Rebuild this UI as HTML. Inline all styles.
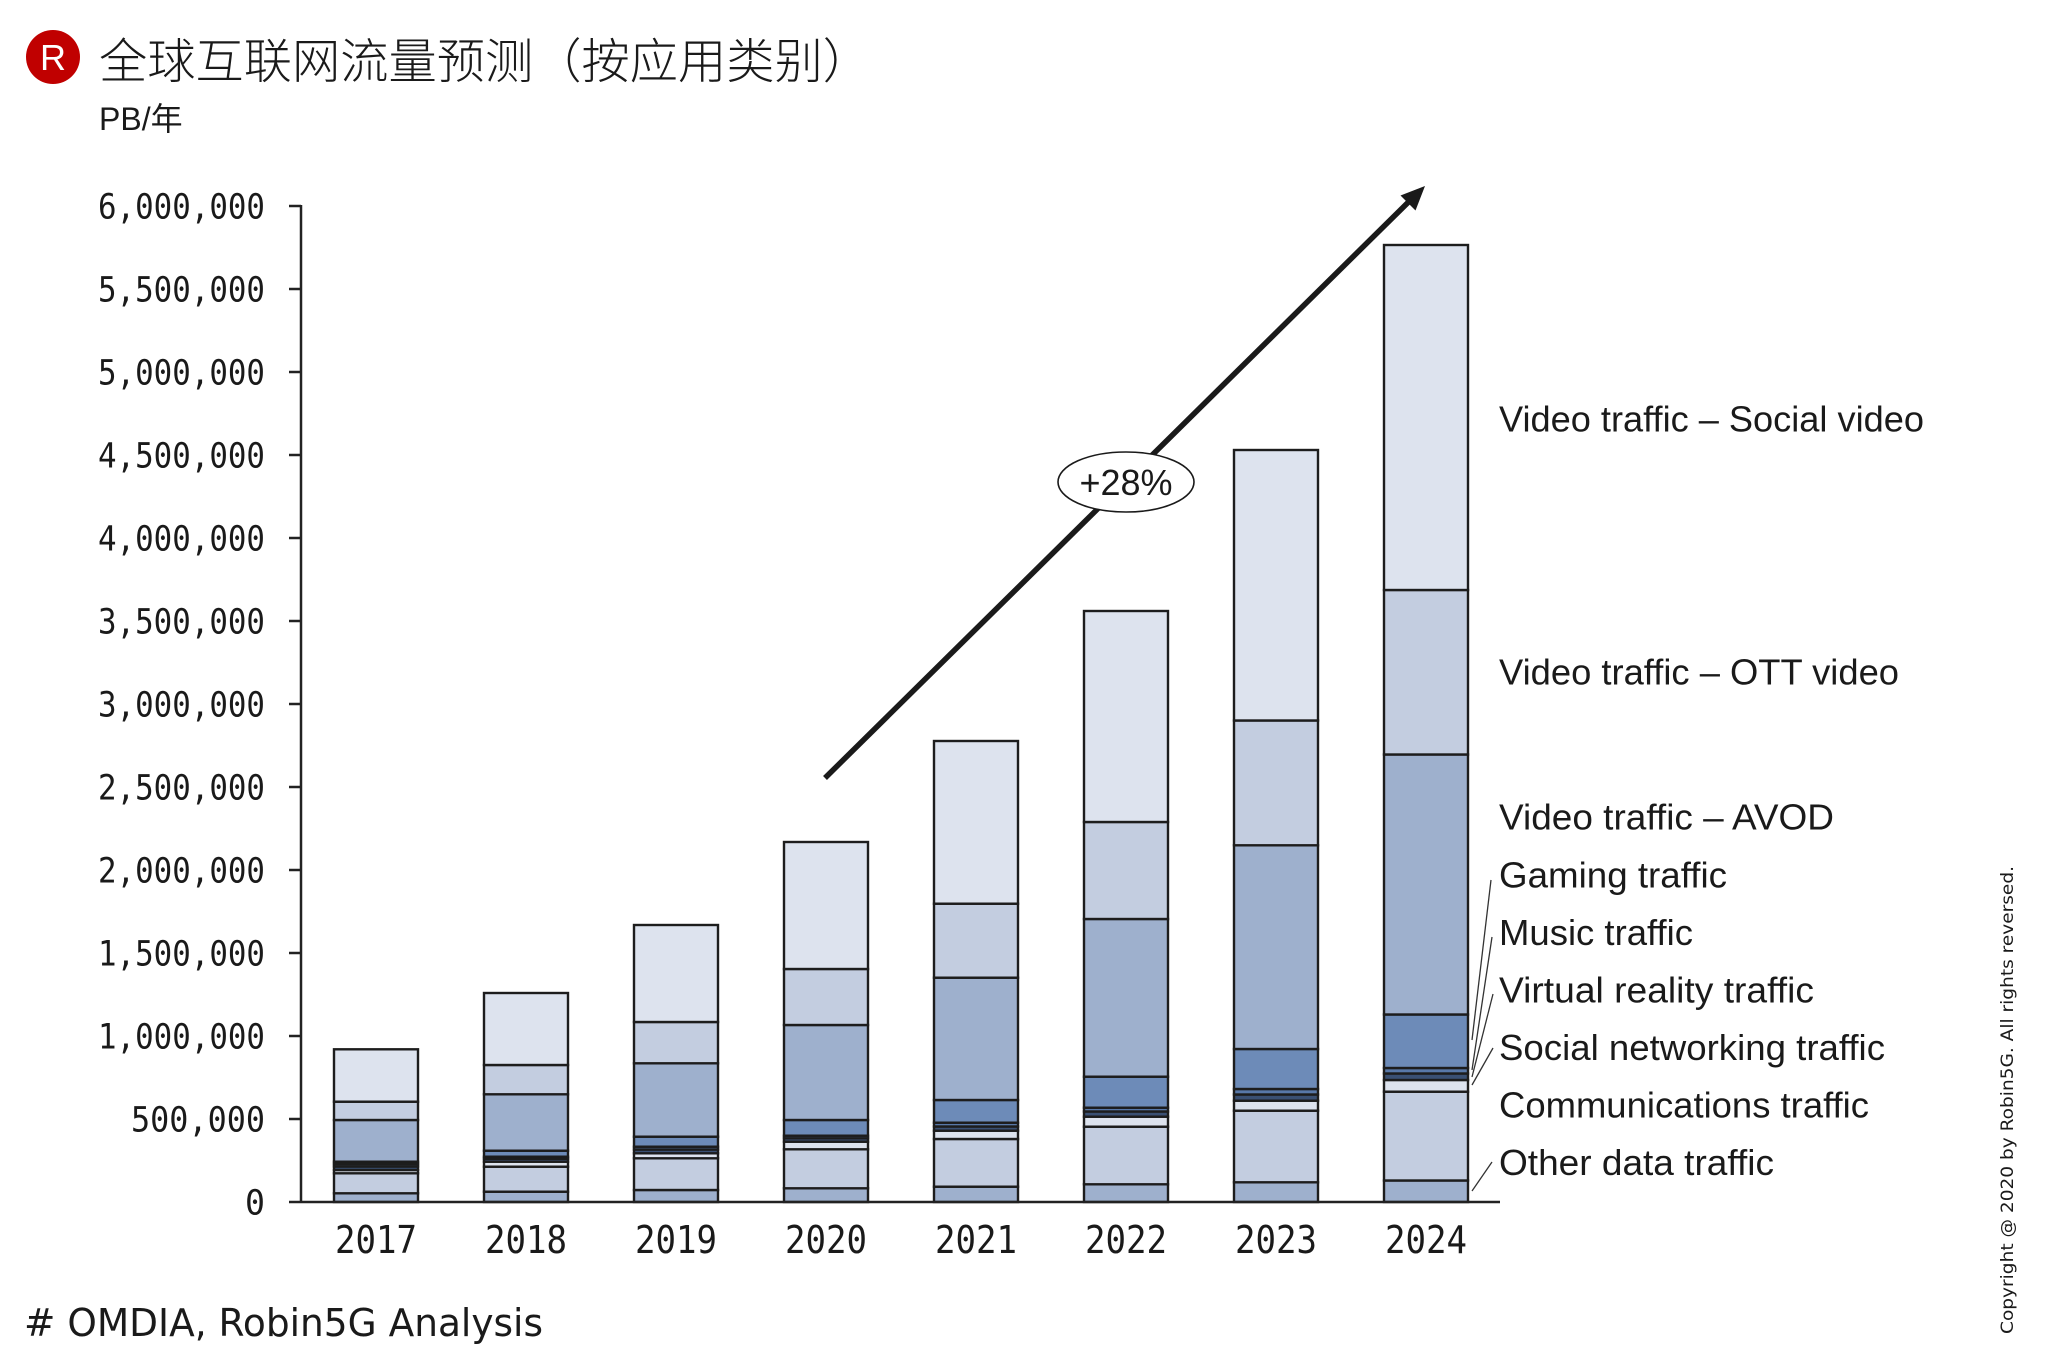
<!DOCTYPE html>
<html>
<head>
<meta charset="utf-8">
<style>
  html, body { margin: 0; padding: 0; background: #ffffff; }
  svg { display: block; }
</style>
</head>
<body>
<svg xmlns="http://www.w3.org/2000/svg" width="2052" height="1368" viewBox="0 0 2052 1368">
  <rect x="0" y="0" width="2052" height="1368" fill="#ffffff"/>

  <!-- Logo + title -->
  <circle cx="53" cy="57" r="27" fill="#c00000"/>
  <text x="53" y="70" text-anchor="middle" font-family="Liberation Sans, sans-serif" font-size="36" fill="#ffffff">R</text>
  <text x="99" y="78" font-family="Liberation Sans, 'Noto Sans CJK SC', sans-serif" font-size="48" font-weight="300" fill="#1a1a1a" textLength="772" lengthAdjust="spacingAndGlyphs">全球互联网流量预测（按应用类别）</text>
  <text x="99" y="130" font-family="Liberation Sans, 'Noto Sans CJK SC', sans-serif" font-size="32" fill="#1a1a1a">PB/年</text>

  <!-- Bars -->
  <g stroke="#1d1d1d" stroke-width="2.4">
    <!-- 2017 -->
    <rect x="334" y="1193.3" width="84" height="8.7" fill="#9eb0cd"/>
    <rect x="334" y="1173.3" width="84" height="20" fill="#c3cde0"/>
    <rect x="334" y="1170" width="84" height="3.3" fill="#dde3ee"/>
    <rect x="334" y="1166.5" width="84" height="3.5" fill="#3a5073"/>
    <rect x="334" y="1164" width="84" height="2.5" fill="#5878a8"/>
    <rect x="334" y="1161.7" width="84" height="2.3" fill="#6d8bb8"/>
    <rect x="334" y="1120" width="84" height="41.7" fill="#9eb0cd"/>
    <rect x="334" y="1101.7" width="84" height="18.3" fill="#c3cde0"/>
    <rect x="334" y="1049.3" width="84" height="52.4" fill="#dde3ee"/>
    <!-- 2018 -->
    <rect x="484" y="1191.7" width="84" height="10.3" fill="#9eb0cd"/>
    <rect x="484" y="1166.7" width="84" height="25" fill="#c3cde0"/>
    <rect x="484" y="1161.7" width="84" height="5" fill="#dde3ee"/>
    <rect x="484" y="1158.7" width="84" height="3" fill="#3a5073"/>
    <rect x="484" y="1156.7" width="84" height="2" fill="#5878a8"/>
    <rect x="484" y="1150.7" width="84" height="6" fill="#6d8bb8"/>
    <rect x="484" y="1094.3" width="84" height="56.4" fill="#9eb0cd"/>
    <rect x="484" y="1065" width="84" height="29.3" fill="#c3cde0"/>
    <rect x="484" y="993" width="84" height="72" fill="#dde3ee"/>
    <!-- 2019 -->
    <rect x="634" y="1190" width="84" height="12" fill="#9eb0cd"/>
    <rect x="634" y="1158.3" width="84" height="31.7" fill="#c3cde0"/>
    <rect x="634" y="1153.3" width="84" height="5" fill="#dde3ee"/>
    <rect x="634" y="1149.5" width="84" height="3.8" fill="#3a5073"/>
    <rect x="634" y="1146.7" width="84" height="2.8" fill="#5878a8"/>
    <rect x="634" y="1136.7" width="84" height="10" fill="#6d8bb8"/>
    <rect x="634" y="1063.3" width="84" height="73.4" fill="#9eb0cd"/>
    <rect x="634" y="1022" width="84" height="41.3" fill="#c3cde0"/>
    <rect x="634" y="925" width="84" height="97" fill="#dde3ee"/>
    <!-- 2020 -->
    <rect x="784" y="1188.3" width="84" height="13.7" fill="#9eb0cd"/>
    <rect x="784" y="1149.3" width="84" height="39" fill="#c3cde0"/>
    <rect x="784" y="1141.7" width="84" height="7.6" fill="#dde3ee"/>
    <rect x="784" y="1138.3" width="84" height="3.4" fill="#3a5073"/>
    <rect x="784" y="1135.7" width="84" height="2.6" fill="#5878a8"/>
    <rect x="784" y="1120" width="84" height="15.7" fill="#6d8bb8"/>
    <rect x="784" y="1025" width="84" height="95" fill="#9eb0cd"/>
    <rect x="784" y="969" width="84" height="56" fill="#c3cde0"/>
    <rect x="784" y="842" width="84" height="127" fill="#dde3ee"/>
    <!-- 2021 -->
    <rect x="934" y="1186.7" width="84" height="15.3" fill="#9eb0cd"/>
    <rect x="934" y="1139" width="84" height="47.7" fill="#c3cde0"/>
    <rect x="934" y="1130.7" width="84" height="8.3" fill="#dde3ee"/>
    <rect x="934" y="1126.5" width="84" height="4.2" fill="#3a5073"/>
    <rect x="934" y="1122.7" width="84" height="3.8" fill="#5878a8"/>
    <rect x="934" y="1100" width="84" height="22.7" fill="#6d8bb8"/>
    <rect x="934" y="977.7" width="84" height="122.3" fill="#9eb0cd"/>
    <rect x="934" y="903.7" width="84" height="74" fill="#c3cde0"/>
    <rect x="934" y="741" width="84" height="162.7" fill="#dde3ee"/>
    <!-- 2022 -->
    <rect x="1084" y="1184.3" width="84" height="17.7" fill="#9eb0cd"/>
    <rect x="1084" y="1126.7" width="84" height="57.6" fill="#c3cde0"/>
    <rect x="1084" y="1116.7" width="84" height="10" fill="#dde3ee"/>
    <rect x="1084" y="1111.5" width="84" height="5.2" fill="#3a5073"/>
    <rect x="1084" y="1107.7" width="84" height="3.8" fill="#5878a8"/>
    <rect x="1084" y="1076.7" width="84" height="31" fill="#6d8bb8"/>
    <rect x="1084" y="919" width="84" height="157.7" fill="#9eb0cd"/>
    <rect x="1084" y="822" width="84" height="97" fill="#c3cde0"/>
    <rect x="1084" y="611" width="84" height="211" fill="#dde3ee"/>
    <!-- 2023 -->
    <rect x="1234" y="1182.3" width="84" height="19.7" fill="#9eb0cd"/>
    <rect x="1234" y="1110.7" width="84" height="71.6" fill="#c3cde0"/>
    <rect x="1234" y="1100.7" width="84" height="10" fill="#dde3ee"/>
    <rect x="1234" y="1094.5" width="84" height="6.2" fill="#3a5073"/>
    <rect x="1234" y="1089" width="84" height="5.5" fill="#5878a8"/>
    <rect x="1234" y="1049" width="84" height="40" fill="#6d8bb8"/>
    <rect x="1234" y="845.3" width="84" height="203.7" fill="#9eb0cd"/>
    <rect x="1234" y="720.5" width="84" height="124.8" fill="#c3cde0"/>
    <rect x="1234" y="450" width="84" height="270.5" fill="#dde3ee"/>
    <!-- 2024 -->
    <rect x="1384" y="1180.5" width="84" height="21.5" fill="#9eb0cd"/>
    <rect x="1384" y="1091.7" width="84" height="88.8" fill="#c3cde0"/>
    <rect x="1384" y="1080" width="84" height="11.7" fill="#dde3ee"/>
    <rect x="1384" y="1073.5" width="84" height="6.5" fill="#3a5073"/>
    <rect x="1384" y="1068" width="84" height="5.5" fill="#5878a8"/>
    <rect x="1384" y="1014.5" width="84" height="53.5" fill="#6d8bb8"/>
    <rect x="1384" y="754.5" width="84" height="260" fill="#9eb0cd"/>
    <rect x="1384" y="590" width="84" height="164.5" fill="#c3cde0"/>
    <rect x="1384" y="245" width="84" height="345" fill="#dde3ee"/>
  </g>

  <!-- Axes -->
  <g stroke="#222222" stroke-width="2.5" fill="none">
    <line x1="301" y1="205" x2="301" y2="1202"/>
    <line x1="289" y1="1202" x2="1500" y2="1202"/>
    <line x1="289" y1="1119" x2="301" y2="1119"/>
    <line x1="289" y1="1036" x2="301" y2="1036"/>
    <line x1="289" y1="953" x2="301" y2="953"/>
    <line x1="289" y1="870" x2="301" y2="870"/>
    <line x1="289" y1="787" x2="301" y2="787"/>
    <line x1="289" y1="704" x2="301" y2="704"/>
    <line x1="289" y1="621" x2="301" y2="621"/>
    <line x1="289" y1="538" x2="301" y2="538"/>
    <line x1="289" y1="455" x2="301" y2="455"/>
    <line x1="289" y1="372" x2="301" y2="372"/>
    <line x1="289" y1="289" x2="301" y2="289"/>
    <line x1="289" y1="206" x2="301" y2="206"/>
  </g>

  <!-- Y tick labels -->
  <g font-family="'DejaVu Sans Mono', monospace" font-size="35" fill="#1a1a1a" text-anchor="end">
    <text x="265" y="1214.5" textLength="20" lengthAdjust="spacingAndGlyphs">0</text>
    <text x="265" y="1131.5" textLength="134" lengthAdjust="spacingAndGlyphs">500,000</text>
    <text x="265" y="1048.5" textLength="167" lengthAdjust="spacingAndGlyphs">1,000,000</text>
    <text x="265" y="965.5" textLength="167" lengthAdjust="spacingAndGlyphs">1,500,000</text>
    <text x="265" y="882.5" textLength="167" lengthAdjust="spacingAndGlyphs">2,000,000</text>
    <text x="265" y="799.5" textLength="167" lengthAdjust="spacingAndGlyphs">2,500,000</text>
    <text x="265" y="716.5" textLength="167" lengthAdjust="spacingAndGlyphs">3,000,000</text>
    <text x="265" y="633.5" textLength="167" lengthAdjust="spacingAndGlyphs">3,500,000</text>
    <text x="265" y="550.5" textLength="167" lengthAdjust="spacingAndGlyphs">4,000,000</text>
    <text x="265" y="467.5" textLength="167" lengthAdjust="spacingAndGlyphs">4,500,000</text>
    <text x="265" y="384.5" textLength="167" lengthAdjust="spacingAndGlyphs">5,000,000</text>
    <text x="265" y="301.5" textLength="167" lengthAdjust="spacingAndGlyphs">5,500,000</text>
    <text x="265" y="218.5" textLength="167" lengthAdjust="spacingAndGlyphs">6,000,000</text>
  </g>

  <!-- X labels -->
  <g font-family="'DejaVu Sans Mono', monospace" font-size="38" fill="#1a1a1a" text-anchor="middle">
    <text x="376" y="1253" textLength="82" lengthAdjust="spacingAndGlyphs">2017</text>
    <text x="526" y="1253" textLength="82" lengthAdjust="spacingAndGlyphs">2018</text>
    <text x="676" y="1253" textLength="82" lengthAdjust="spacingAndGlyphs">2019</text>
    <text x="826" y="1253" textLength="82" lengthAdjust="spacingAndGlyphs">2020</text>
    <text x="976" y="1253" textLength="82" lengthAdjust="spacingAndGlyphs">2021</text>
    <text x="1126" y="1253" textLength="82" lengthAdjust="spacingAndGlyphs">2022</text>
    <text x="1276" y="1253" textLength="82" lengthAdjust="spacingAndGlyphs">2023</text>
    <text x="1426" y="1253" textLength="82" lengthAdjust="spacingAndGlyphs">2024</text>
  </g>

  <!-- Growth arrow -->
  <line x1="825" y1="778" x2="1409" y2="201.5" stroke="#1a1a1a" stroke-width="5.5"/>
  <polygon points="1425,186 1415.5,210.5 1400.5,195.5" fill="#1a1a1a"/>
  <ellipse cx="1126" cy="482" rx="68" ry="30" fill="#ffffff" stroke="#1a1a1a" stroke-width="1.6"/>
  <text x="1126" y="495" text-anchor="middle" font-family="Liberation Sans, sans-serif" font-size="36" fill="#1a1a1a">+28%</text>

  <!-- Leader lines -->
  <g stroke="#333333" stroke-width="1.3">
    <line x1="1491" y1="880" x2="1472" y2="1040"/>
    <line x1="1492" y1="937" x2="1472" y2="1070"/>
    <line x1="1493" y1="994" x2="1472" y2="1077"/>
    <line x1="1493" y1="1048" x2="1472" y2="1085"/>
    <line x1="1492" y1="1162" x2="1472" y2="1191"/>
  </g>

  <!-- Series labels -->
  <g font-family="Liberation Sans, sans-serif" font-size="36" fill="#1a1a1a">
    <text x="1499" y="431.5" textLength="425" lengthAdjust="spacingAndGlyphs">Video traffic – Social video</text>
    <text x="1499" y="684.5" textLength="400" lengthAdjust="spacingAndGlyphs">Video traffic – OTT video</text>
    <text x="1499" y="829.5" textLength="335" lengthAdjust="spacingAndGlyphs">Video traffic – AVOD</text>
    <text x="1499" y="887.5" textLength="228" lengthAdjust="spacingAndGlyphs">Gaming traffic</text>
    <text x="1499" y="945" textLength="194" lengthAdjust="spacingAndGlyphs">Music traffic</text>
    <text x="1499" y="1002.5" textLength="315" lengthAdjust="spacingAndGlyphs">Virtual reality traffic</text>
    <text x="1499" y="1060" textLength="386" lengthAdjust="spacingAndGlyphs">Social networking traffic</text>
    <text x="1499" y="1117.5" textLength="370" lengthAdjust="spacingAndGlyphs">Communications traffic</text>
    <text x="1499" y="1175" textLength="275" lengthAdjust="spacingAndGlyphs">Other data traffic</text>
  </g>

  <!-- Source -->
  <text x="24" y="1336" font-family="'DejaVu Sans', sans-serif" font-size="38" fill="#1a1a1a" textLength="519" lengthAdjust="spacingAndGlyphs"># OMDIA, Robin5G Analysis</text>

  <!-- Copyright vertical -->
  <text transform="translate(2013,1100) rotate(-90)" text-anchor="middle" font-family="'DejaVu Sans', sans-serif" font-size="17" fill="#1a1a1a" textLength="468" lengthAdjust="spacingAndGlyphs">Copyright @ 2020 by Robin5G. All rights reversed.</text>
</svg>
</body>
</html>
